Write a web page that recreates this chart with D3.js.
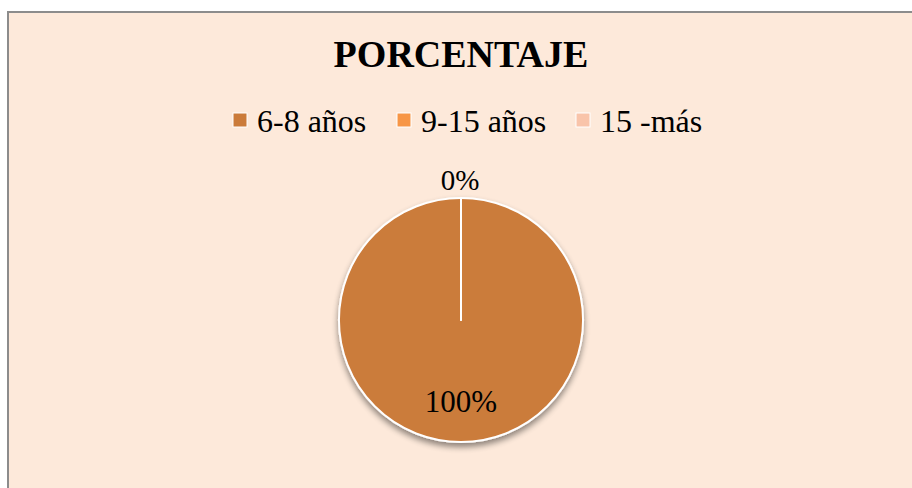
<!DOCTYPE html>
<html>
<head>
<meta charset="utf-8">
<script src="https://cdn.jsdelivr.net/npm/d3@7"></script>
<style>
  html, body { margin: 0; padding: 0; background: #fff; }
  svg { display: block; }
  svg text { font-family: "Times New Roman", Times, "Liberation Serif", "DejaVu Serif", serif; }
</style>
</head>
<body>
<div id="chart"></div>
<script>
var categories = ["6-8 años", "9-15 años", "15 -más"];
var values = [100, 0, 0];
var colors = ["#CB7B3A", "#F79646", "#F9C4AA"];

var W = 912, H = 488;
var svg = d3.select("#chart").append("svg")
    .attr("width", W).attr("height", H);

// fondo y borde
svg.append("rect").attr("x", 0).attr("y", 0).attr("width", W).attr("height", H).attr("fill", "#fff");
svg.append("rect").attr("x", 8).attr("y", 12).attr("width", W).attr("height", H)
    .attr("fill", "#FDE9DA").attr("stroke", "#8c8c8c").attr("stroke-width", 2);

// titulo
svg.append("text").attr("x", 461).attr("y", 67)
    .attr("text-anchor", "middle").attr("font-size", 38).attr("font-weight", "bold")
    .text("PORCENTAJE");

// leyenda
var legendX = [233, 397, 576];
var lg = svg.append("g").selectAll("g").data(categories).enter().append("g")
    .attr("transform", function (d, i) { return "translate(" + legendX[i] + ",113)"; });
lg.append("rect").attr("width", 14).attr("height", 14)
    .attr("fill", function (d, i) { return colors[i]; })
    .attr("stroke", "#fff").attr("stroke-width", 1);
lg.append("text").attr("x", 24).attr("y", 19).attr("font-size", 32)
    .text(function (d) { return d; });

// pastel
var cx = 461, cy = 320, r = 122;
var defs = svg.append("defs");
var f = defs.append("filter").attr("id", "sh").attr("x", "-20%").attr("y", "-20%").attr("width", "140%").attr("height", "140%");
f.append("feGaussianBlur").attr("in", "SourceAlpha").attr("stdDeviation", 3);
f.append("feOffset").attr("dx", 0).attr("dy", 4).attr("result", "b");
f.append("feComponentTransfer").append("feFuncA").attr("type", "linear").attr("slope", 0.45);
var m = f.append("feMerge");
m.append("feMergeNode");
m.append("feMergeNode").attr("in", "SourceGraphic");

var pie = d3.pie().sort(null).value(function (d) { return d; });
var arcs = pie(values);
var arc = d3.arc().innerRadius(0).outerRadius(r);

var g = svg.append("g").attr("transform", "translate(" + cx + "," + cy + ")");
g.append("g").attr("filter", "url(#sh)").selectAll("path").data(arcs).enter().append("path")
    .attr("d", arc)
    .attr("fill", function (d, i) { return colors[i]; })
    .attr("stroke", "#fff").attr("stroke-width", 2).attr("stroke-linejoin", "round");

// linea blanca del segmento 0%
g.append("line").attr("x1", 0).attr("y1", 0).attr("x2", 0).attr("y2", -r)
    .attr("stroke", "#fff").attr("stroke-width", 2);

// etiquetas
svg.append("text").attr("x", cx).attr("y", 412).attr("text-anchor", "middle")
    .attr("font-size", 31).text(values[0] + "%");
svg.append("text").attr("x", cx - 1).attr("y", 190).attr("text-anchor", "middle")
    .attr("font-size", 29).text(values[1] + "%");
</script>
</body>
</html>
